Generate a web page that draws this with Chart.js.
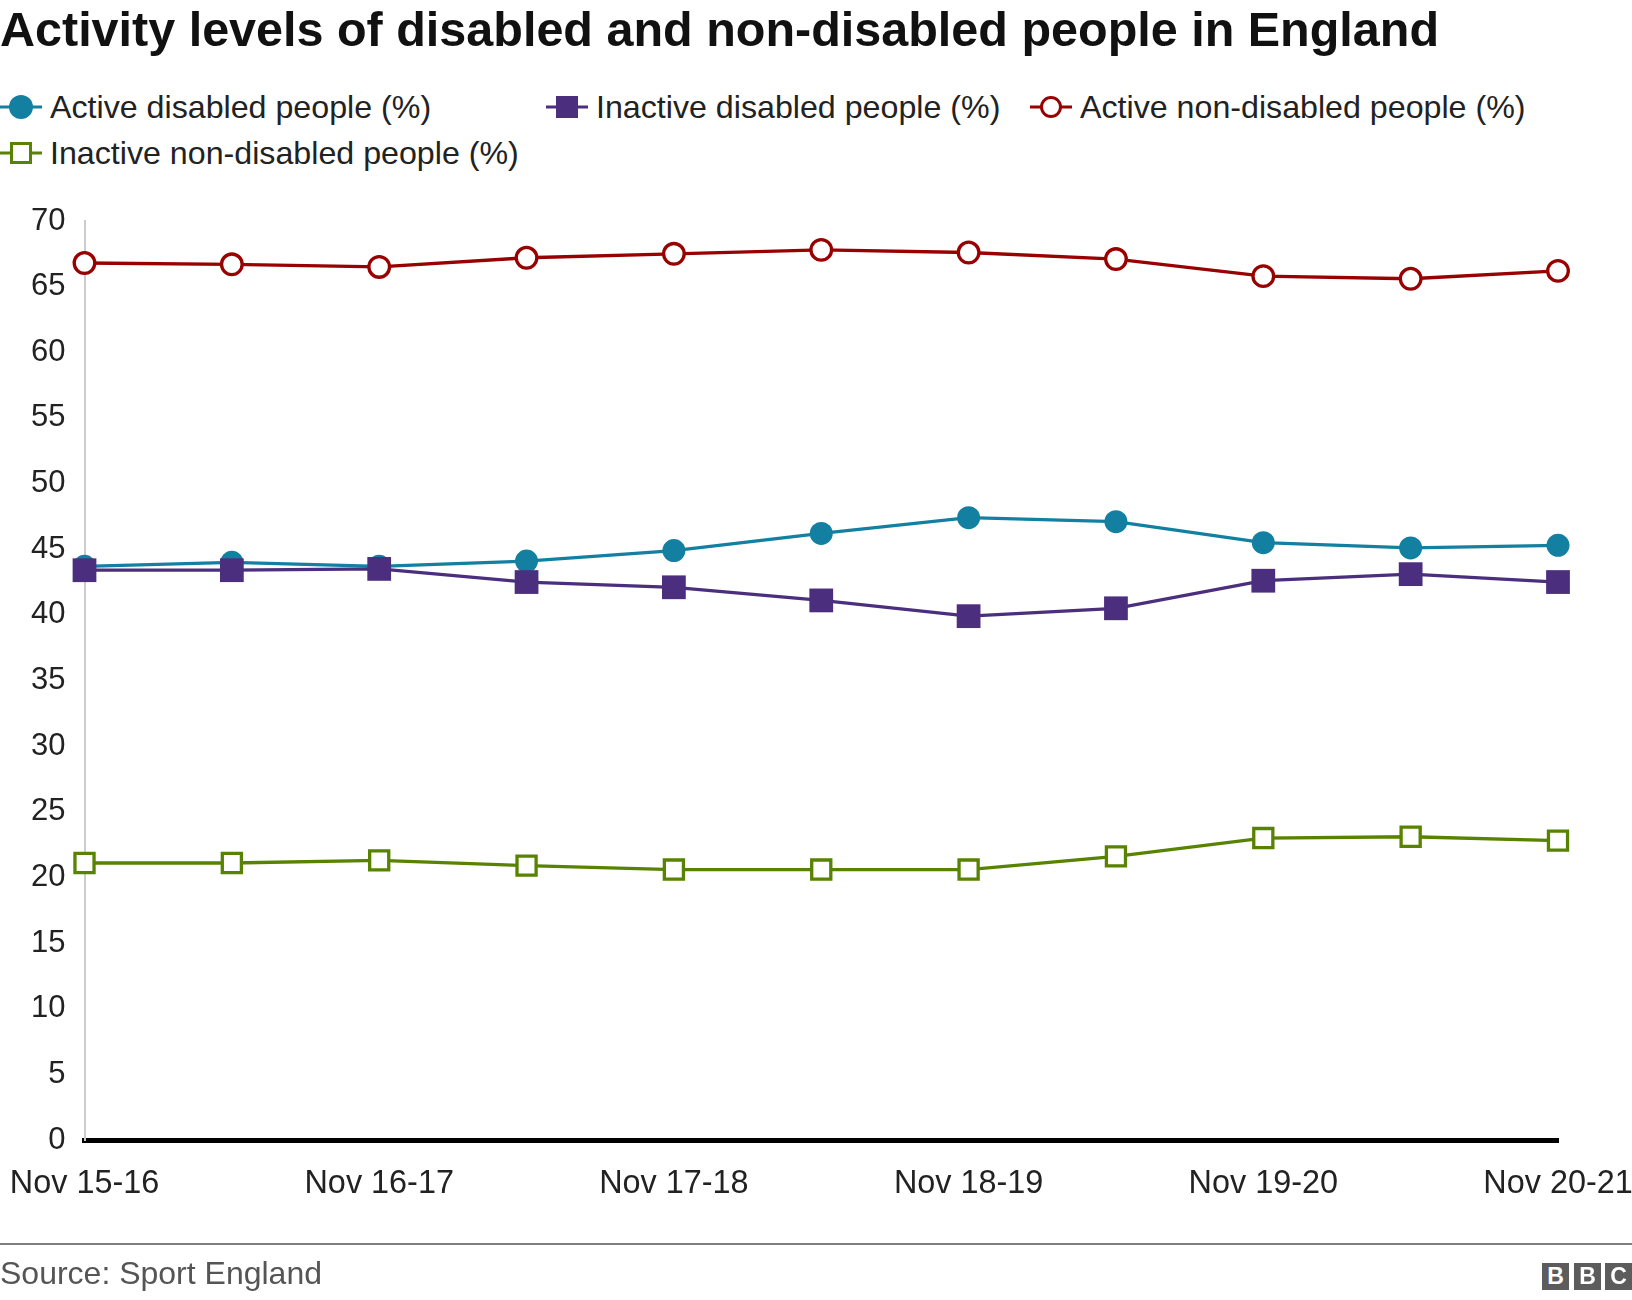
<!DOCTYPE html>
<html>
<head>
<meta charset="utf-8">
<script src="https://cdn.jsdelivr.net/npm/chart.js@4.4.1/dist/chart.umd.min.js"></script>
<style>
html,body{margin:0;padding:0;background:#fff;}
#wrap{position:relative;width:1632px;height:1300px;overflow:hidden;font-family:"Liberation Sans",Arial,Helvetica,sans-serif;color:#222;}
#c{position:absolute;left:0;top:0;}
.title{position:absolute;left:0;top:1px;font-size:48.5px;font-weight:bold;line-height:56px;white-space:nowrap;color:#111;}
.leg{position:absolute;height:40px;font-size:32.2px;white-space:nowrap;display:flex;align-items:center;}
.leg svg{flex:none;}
.leg span{margin-left:8px;line-height:40px;}
.rule{position:absolute;left:0;top:1243px;width:1632px;height:2px;background:#7f7f7f;}
.source{position:absolute;left:0;top:1253px;font-size:32px;line-height:40px;color:#555;white-space:nowrap;}
.bbc{position:absolute;top:1263px;width:27px;height:27px;background:#5c5c5c;color:#fff;font-weight:bold;font-size:23px;line-height:27px;text-align:center;}
</style>
</head>
<body>
<div id="wrap">
  <div class="title">Activity levels of disabled and non-disabled people in England</div>

  <div class="leg" style="left:0;top:87px;">
    <svg width="42" height="30"><line x1="0" y1="15" x2="42" y2="15" stroke="#1380A1" stroke-width="3"/><circle cx="21" cy="15" r="12" fill="#1380A1"/></svg>
    <span>Active disabled people (%)</span>
  </div>
  <div class="leg" style="left:546px;top:87px;">
    <svg width="42" height="30"><line x1="0" y1="15" x2="42" y2="15" stroke="#4B2E7E" stroke-width="3"/><rect x="10" y="4" width="22" height="22" fill="#4B2E7E"/></svg>
    <span>Inactive disabled people (%)</span>
  </div>
  <div class="leg" style="left:1030px;top:87px;">
    <svg width="42" height="30"><line x1="0" y1="15" x2="42" y2="15" stroke="#990000" stroke-width="3"/><circle cx="21" cy="15" r="9.5" fill="#fff" stroke="#990000" stroke-width="3"/></svg>
    <span>Active non-disabled people (%)</span>
  </div>
  <div class="leg" style="left:0;top:133px;">
    <svg width="42" height="30"><line x1="0" y1="15" x2="42" y2="15" stroke="#588300" stroke-width="3"/><rect x="11.5" y="5.5" width="19" height="19" fill="#fff" stroke="#588300" stroke-width="3"/></svg>
    <span>Inactive non-disabled people (%)</span>
  </div>

  <canvas id="c" width="1632" height="1300"></canvas>

  <div class="rule"></div>
  <div class="source">Source: Sport England</div>
  <div class="bbc" style="left:1542px;">B</div>
  <div class="bbc" style="left:1574px;">B</div>
  <div class="bbc" style="left:1605px;">C</div>
</div>

<script>
const categories = ["Nov 15-16","May 16-17","Nov 16-17","May 17-18","Nov 17-18","May 18-19","Nov 18-19","May 19-20","Nov 19-20","May 20-21","Nov 20-21"];
const xTickLabels = ["Nov 15-16","","Nov 16-17","","Nov 17-18","","Nov 18-19","","Nov 19-20","","Nov 20-21"];
const activeDisabled = [43.7, 44.0, 43.7, 44.1, 44.9, 46.2, 47.4, 47.1, 45.5, 45.1, 45.3];
const inactiveDisabled = [43.4, 43.4, 43.5, 42.5, 42.1, 41.1, 39.9, 40.5, 42.6, 43.1, 42.5];
const activeNonDisabled = [66.8, 66.7, 66.5, 67.2, 67.5, 67.8, 67.6, 67.1, 65.8, 65.6, 66.2];
const inactiveNonDisabled = [21.1, 21.1, 21.3, 20.9, 20.6, 20.6, 20.6, 21.6, 23.0, 23.1, 22.8];
const yMin = 0, yMax = 70, yStep = 5;

const FONT = '"Liberation Sans", Arial, Helvetica, sans-serif';

new Chart(document.getElementById('c'), {
  type: 'line',
  data: {
    labels: categories,
    datasets: [
      {
        label: 'Active disabled people (%)',
        data: activeDisabled,
        borderColor: '#1380A1', backgroundColor: '#1380A1',
        borderWidth: 3.3, pointStyle: 'circle', pointRadius: 11.5,
        pointBackgroundColor: '#1380A1', pointBorderWidth: 0,
        tension: 0, clip: false, order: 1
      },
      {
        label: 'Inactive disabled people (%)',
        data: inactiveDisabled,
        borderColor: '#4B2E7E', backgroundColor: '#4B2E7E',
        borderWidth: 3.3, pointStyle: 'rect', pointRadius: 16.8,
        pointBackgroundColor: '#4B2E7E', pointBorderWidth: 0,
        tension: 0, clip: false, order: 0
      },
      {
        label: 'Active non-disabled people (%)',
        data: activeNonDisabled,
        borderColor: '#990000', backgroundColor: '#ffffff',
        borderWidth: 3.3, pointStyle: 'circle', pointRadius: 10.3,
        pointBackgroundColor: '#ffffff', pointBorderColor: '#990000', pointBorderWidth: 3.3,
        tension: 0, clip: false, order: 2
      },
      {
        label: 'Inactive non-disabled people (%)',
        data: inactiveNonDisabled,
        borderColor: '#588300', backgroundColor: '#ffffff',
        borderWidth: 3.3, pointStyle: 'rect', pointRadius: 13.5,
        pointBackgroundColor: '#ffffff', pointBorderColor: '#588300', pointBorderWidth: 3.3,
        tension: 0, clip: false, order: 3
      }
    ]
  },
  options: {
    responsive: false,
    animation: false,
    devicePixelRatio: 1,
    events: [],
    layout: { padding: { left: 0, right: 74, top: 221, bottom: 0 } },
    plugins: { legend: { display: false }, title: { display: false }, tooltip: { enabled: false } },
    scales: {
      x: {
        type: 'category',
        offset: false,
        grid: { display: true, color: 'rgba(0,0,0,0)', drawTicks: false },
        border: { display: true, color: '#000000', width: 5 },
        ticks: {
          autoSkip: false, maxRotation: 0, minRotation: 0, padding: 25,
          color: '#222', font: { family: FONT, size: 32.4 },
          callback: (v, i) => xTickLabels[i]
        },
        afterFit: (s) => { s.height = 160; s.paddingLeft = 0; s.paddingRight = 0; }
      },
      y: {
        min: yMin, max: yMax,
        grid: { display: true, color: 'rgba(0,0,0,0)', drawTicks: false },
        border: { display: true, color: '#cccccc', width: 2 },
        ticks: { stepSize: yStep, padding: 19, color: '#222', font: { family: FONT, size: 31 } },
        afterFit: (s) => { s.width = 84.5; }
      }
    }
  }
});
</script>
</body>
</html>
